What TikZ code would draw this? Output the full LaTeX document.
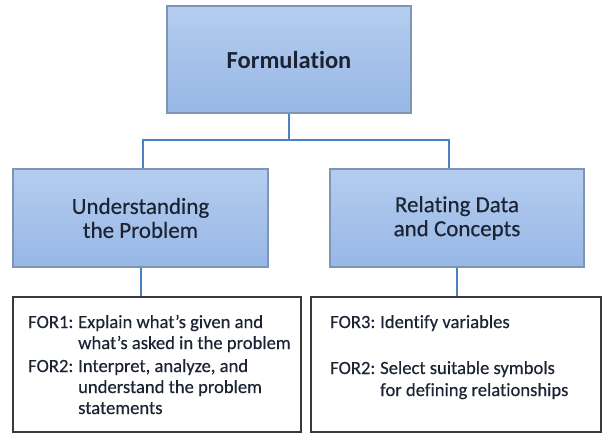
\documentclass[tikz,border=0pt]{standalone}
\usepackage{fontspec}
\setmainfont{Carlito}[Ligatures=NoCommon]
\newfontfamily\semib{Carlito}[Ligatures=NoCommon,FakeBold=0.35]
\usetikzlibrary{calc}
\definecolor{boxtop}{HTML}{B5CDEF}
\definecolor{boxbot}{HTML}{97B7E5}
\definecolor{boxline}{HTML}{7F95B5}
\definecolor{connc}{HTML}{4A80C4}
\definecolor{txt}{HTML}{1C2433}
\definecolor{frame}{HTML}{3A3A3A}
\tikzset{
  bluebox/.style={draw=boxline, line width=1.2pt, top color=boxtop, bottom color=boxbot,
     text=txt, align=center, inner sep=0pt},
  whitebox/.style={draw=frame, line width=1.8pt, fill=white, inner sep=0pt},
  conn/.style={draw=connc, line width=2pt},
  itemtext/.style={anchor=base west, inner sep=0pt, text=txt, font=\semib\fontsize{18.6}{21.5}\selectfont}
}
\begin{document}
\begin{tikzpicture}[x=1pt,y=-1pt]
\useasboundingbox (0,0) rectangle (603,434);
\node[bluebox, minimum width=244pt, minimum height=107pt, font=\fontsize{24.5}{28}\selectfont\bfseries] (top) at (289,59.5) {Formulation};
\node[bluebox, minimum width=255pt, minimum height=98pt, font=\semib\fontsize{23}{24}\selectfont] (left) at (140.5,218) {Understanding\\the Problem};
\node[bluebox, minimum width=254pt, minimum height=98pt, font=\semib\fontsize{23}{24}\selectfont] (right) at (457,218) {Relating Data\\and Concepts};
\node[whitebox, minimum width=288pt, minimum height=135pt] (lbot) at (157,364.5) {};
\node[whitebox, minimum width=290pt, minimum height=135pt] (rbot) at (456,364.5) {};
\coordinate (la) at (143,140);
\coordinate (ra) at (449,140);
\draw[conn] (top.south) |- (la) -- (la |- left.north);
\draw[conn] (top.south) |- (ra) -- (ra |- right.north);
\draw[conn] (left.south) -- (left.south |- lbot.north);
\draw[conn] (right.south) -- (right.south |- rbot.north);
% left item text
\node[itemtext] (f1) at (28,328) {FOR1:};
\node[itemtext] (f1a) at (78,328) {Explain what’s given and};
\node[itemtext] (f1b) at (78,349) {what’s asked in the problem};
\node[itemtext] (f2) at (28,372) {FOR2:};
\node[itemtext] (f2a) at (78,372) {Interpret, analyze, and};
\node[itemtext] (f2b) at (78,393) {understand the problem};
\node[itemtext] (f2c) at (78,414) {statements};
% right item text
\node[itemtext] (g1) at (330,328) {FOR3:};
\node[itemtext] (g1a) at (380,328) {Identify variables};
\node[itemtext] (g2) at (330,374) {FOR2:};
\node[itemtext] (g2a) at (380,374) {Select suitable symbols};
\node[itemtext] (g2b) at (380,396) {for defining relationships};
\end{tikzpicture}
\end{document}
